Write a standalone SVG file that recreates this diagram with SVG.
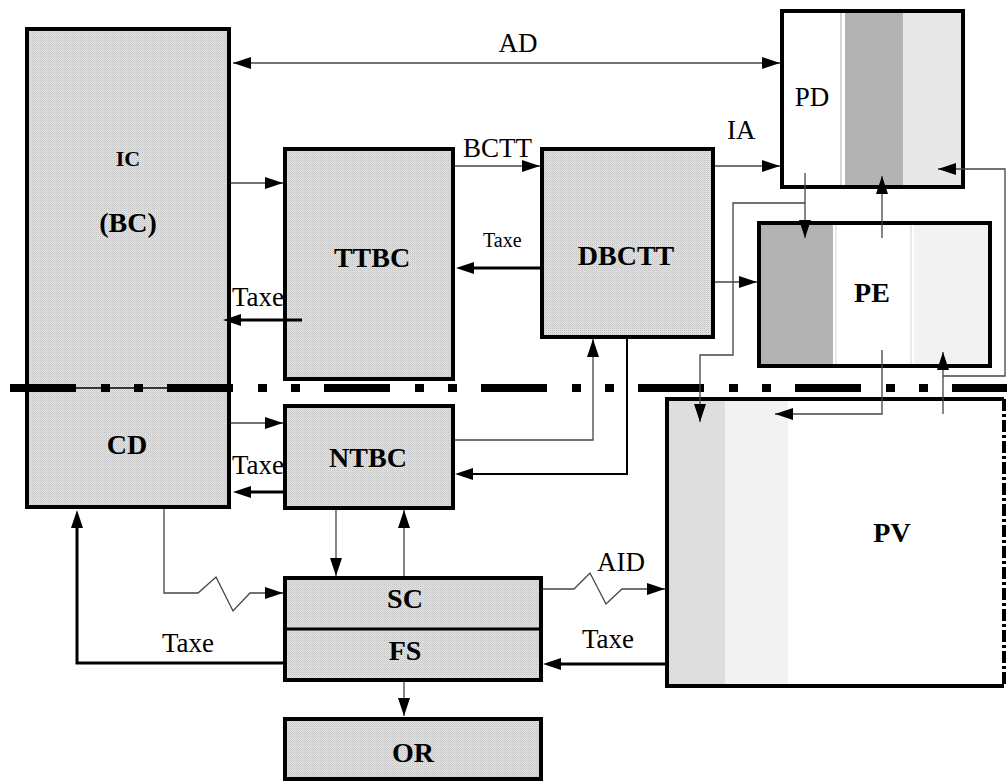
<svg xmlns="http://www.w3.org/2000/svg" width="1007" height="781" viewBox="0 0 1007 781">
<style>
.box{stroke:#000;stroke-width:4;fill:url(#hatch)}
.frame{stroke:#000;stroke-width:4;fill:none}
.lbl{font-family:"Liberation Serif","Times New Roman",serif;font-size:27px;fill:#000}
.b{font-family:"Liberation Serif","Times New Roman",serif;font-size:28px;font-weight:bold;fill:#000;text-anchor:middle}
.thin{stroke:#444;stroke-width:1.3;fill:none}
.thick{stroke:#000;stroke-width:3;fill:none}
</style>
<defs>
<pattern id="hatch" patternUnits="userSpaceOnUse" width="2" height="2">
<rect width="2" height="2" fill="#e4e4e4"/>
<rect width="1" height="1" fill="#c2c2c2"/>
<rect x="1" y="1" width="1" height="1" fill="#d2d2d2"/>
</pattern>
<marker id="ah" markerUnits="userSpaceOnUse" markerWidth="18" markerHeight="12" refX="18" refY="6" orient="auto-start-reverse" viewBox="0 0 18 12">
<path d="M0,0 L18,6 L0,12 z" fill="#000"/>
</marker>
<marker id="ahk" markerUnits="userSpaceOnUse" markerWidth="18" markerHeight="12" refX="11" refY="6" orient="auto" viewBox="0 0 18 12">
<path d="M0,0 L18,6 L0,12 z" fill="#000"/>
</marker>
</defs>
<rect width="1007" height="781" fill="#fff"/>

<g id="labels">
<text class="lbl" x="518" y="52" text-anchor="middle">AD</text>
<text class="lbl" x="463" y="157">BCTT</text>
<text class="lbl" x="727" y="139">IA</text>
<text class="lbl" x="483" y="247" style="font-size:20px">Taxe</text>
<text class="lbl" x="232" y="306">Taxe</text>
<text class="lbl" x="232" y="474">Taxe</text>
<text class="lbl" x="162" y="652">Taxe</text>
<text class="lbl" x="582" y="648">Taxe</text>
<text class="lbl" x="597" y="571">AID</text>
</g>

<g id="node-IC">
<rect class="box" x="27" y="29" width="202" height="478"/>
<line x1="27" y1="388" x2="229" y2="388" stroke="#000" stroke-width="1.3"/>
<text class="b" x="128" y="166" style="font-size:22px">IC</text>
<text class="b" x="128" y="232">(BC)</text>
<text class="b" x="127" y="454">CD</text>
</g>

<g id="node-TTBC">
<rect class="box" x="285" y="149" width="168" height="230"/>
<text class="b" x="372" y="267">TTBC</text>
</g>

<g id="node-DBCTT">
<rect class="box" x="542" y="149" width="171" height="188"/>
<text class="b" x="626" y="265">DBCTT</text>
</g>

<g id="node-NTBC">
<rect class="box" x="285" y="406" width="168" height="102"/>
<text class="b" x="368" y="467">NTBC</text>
</g>

<g id="node-SCFS">
<rect class="box" x="285" y="578" width="256" height="102"/>
<line x1="285" y1="629" x2="541" y2="629" stroke="#000" stroke-width="3"/>
<text class="b" x="405" y="608">SC</text>
<text class="b" x="405" y="660">FS</text>
</g>

<g id="node-OR">
<rect class="box" x="285" y="719" width="256" height="60"/>
<text class="b" x="413" y="762">OR</text>
</g>

<g id="node-PD">
<rect x="782" y="11" width="181" height="176" fill="#fff"/>
<rect x="845" y="11" width="58" height="176" fill="#b3b3b3"/>
<rect x="903" y="11" width="60" height="176" fill="#e8e8e8"/>
<line x1="841" y1="11" x2="841" y2="187" stroke="#c8c8c8" stroke-width="1.5"/>
<rect class="frame" x="782" y="11" width="181" height="176"/>
<text class="lbl" x="812" y="106" text-anchor="middle">PD</text>
</g>

<g id="node-PE">
<rect x="759" y="223" width="231" height="143" fill="#fff"/>
<rect x="759" y="223" width="74" height="143" fill="#b3b3b3"/>
<rect x="914" y="223" width="76" height="143" fill="#f2f2f2"/>
<line x1="836" y1="223" x2="836" y2="366" stroke="#e0e0e0" stroke-width="1.5"/>
<line x1="911" y1="223" x2="911" y2="366" stroke="#e0e0e0" stroke-width="1.5"/>
<rect class="frame" x="759" y="223" width="231" height="143"/>
<text class="b" x="872" y="302">PE</text>
</g>

<g id="node-PV">
<rect x="667" y="399" width="337" height="287" fill="#fff"/>
<rect x="667" y="399" width="58" height="287" fill="#dedede"/>
<rect x="725" y="399" width="63" height="287" fill="#f2f2f2"/>
<path d="M1004,399 L667,399 L667,686 L1004,686" class="frame"/>
<line x1="1004" y1="399" x2="1004" y2="686" stroke="#000" stroke-width="4" stroke-dasharray="12 3 3 3"/>
<text class="b" x="892" y="542">PV</text>
</g>

<g id="separator">
<line x1="10" y1="388" x2="1007" y2="388" stroke="#000" stroke-width="8" stroke-dasharray="66 25 9 24 9 24"/>
</g>

<g id="connectors">
<line class="thin" x1="233" y1="63" x2="780" y2="63" marker-start="url(#ah)" marker-end="url(#ah)"/>
<line class="thin" x1="231" y1="183" x2="283" y2="183" marker-end="url(#ah)"/>
<line class="thick" x1="302" y1="320" x2="230" y2="320" marker-end="url(#ahk)"/>
<line class="thin" x1="455" y1="166" x2="540" y2="166" marker-end="url(#ah)"/>
<line class="thick" x1="540" y1="268" x2="463" y2="268" marker-end="url(#ahk)"/>
<line class="thin" x1="715" y1="166" x2="780" y2="166" marker-end="url(#ah)"/>
<line class="thin" x1="715" y1="282" x2="757" y2="282" marker-end="url(#ah)"/>
<line class="thin" x1="805" y1="173" x2="805" y2="238" marker-end="url(#ah)"/>
<path class="thin" d="M805,203 L733,203 L733,355 L700,355 L700,422" marker-end="url(#ah)"/>
<line class="thin" x1="882" y1="238" x2="882" y2="176" marker-end="url(#ah)"/>
<path class="thin" d="M882,350 L882,414 L775,414" marker-end="url(#ah)"/>
<line class="thin" x1="943" y1="414" x2="943" y2="352" marker-end="url(#ah)"/>
<path class="thin" d="M943,376 L1005,376 L1005,169 L938,169" marker-end="url(#ah)"/>
<line class="thin" x1="231" y1="423" x2="283" y2="423" marker-end="url(#ah)"/>
<line class="thick" x1="283" y1="492" x2="240" y2="492" marker-end="url(#ahk)"/>
<path class="thin" d="M455,440 L593,440 L593,339" marker-end="url(#ah)"/>
<path d="M627,339 L627,474 L462,474" stroke="#000" stroke-width="2" fill="none" marker-end="url(#ahk)"/>
<line class="thin" x1="336" y1="510" x2="336" y2="576" marker-end="url(#ah)"/>
<line class="thin" x1="404" y1="576" x2="404" y2="510" marker-end="url(#ah)"/>
<path class="thin" d="M164,509 L164,593 L198,593 L216,577 L233,611 L250,593 L283,593" marker-end="url(#ah)"/>
<path class="thin" d="M543,589 L574,589 L590,573 L606,604 L622,589 L665,589" marker-end="url(#ah)"/>
<line class="thick" x1="665" y1="664" x2="550" y2="664" marker-end="url(#ahk)"/>
<path class="thick" d="M283,663 L77,663 L77,517" marker-end="url(#ahk)"/>
<line class="thin" x1="404" y1="682" x2="404" y2="716" marker-end="url(#ah)"/>
</g>
</svg>
